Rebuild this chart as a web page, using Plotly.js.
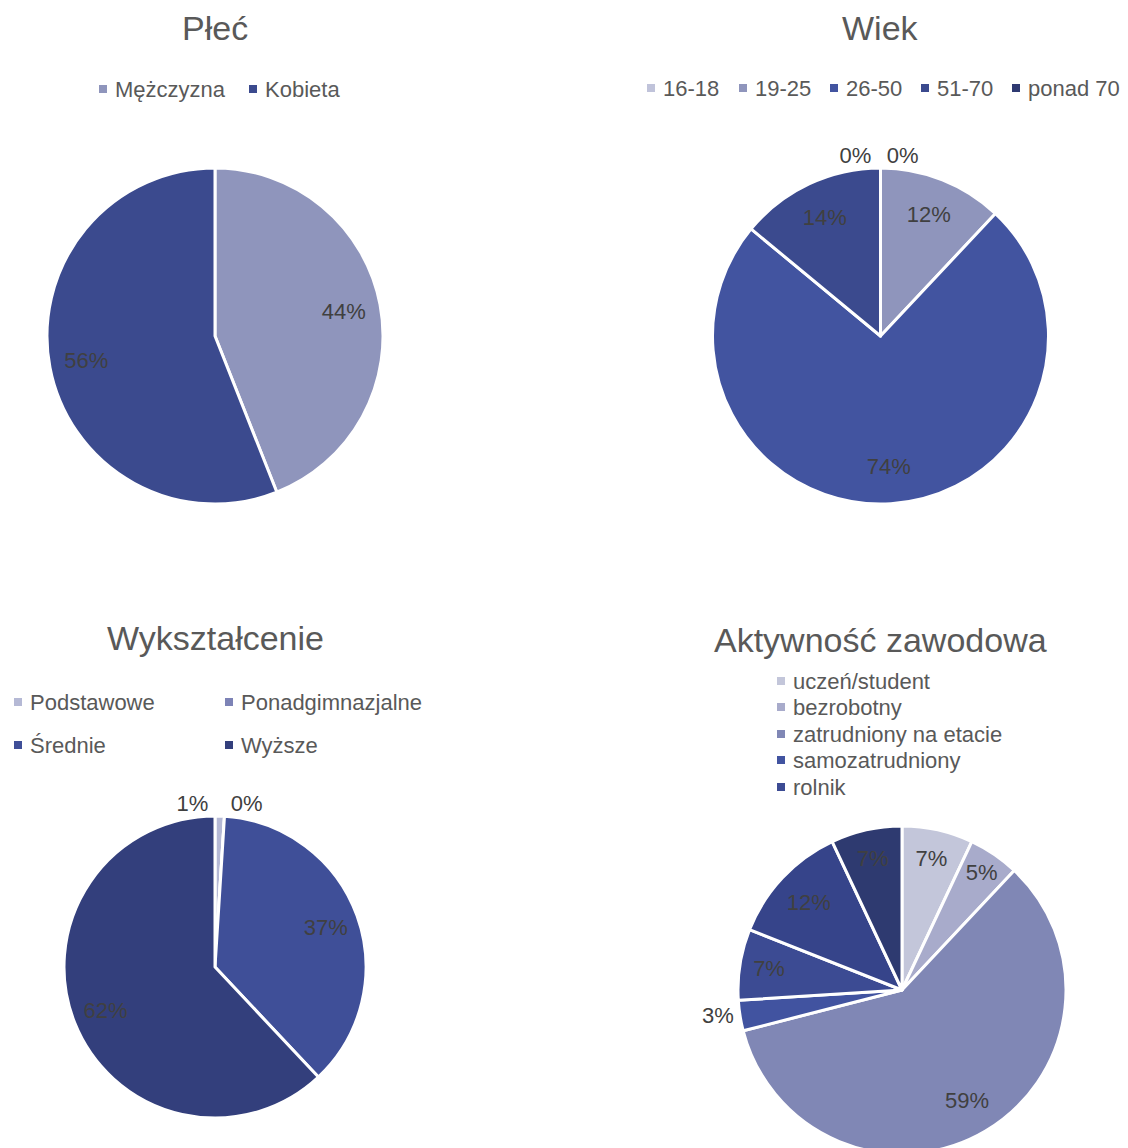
<!DOCTYPE html>
<html><head><meta charset="utf-8">
<script src="https://cdn.plot.ly/plotly-3.0.1.min.js"></script>
<style>html,body{margin:0;padding:0;background:#fff;overflow:hidden}</style>
</head><body><div id="chart" style="width:1128px;height:1160px"></div>
<script>
// ---- data ----
const plecTitle = 'Płeć';
const plecLabels = ['Mężczyzna', 'Kobieta'];
const plecValues = [44, 56];

const wiekTitle = 'Wiek';
const wiekLabels = ['16-18', '19-25', '26-50', '51-70', 'ponad 70'];
const wiekValues = [0, 12, 74, 14, 0];

const wyksztTitle = 'Wykształcenie';
const wyksztLabels = ['Podstawowe', 'Ponadgimnazjalne', 'Średnie', 'Wyższe'];
const wyksztValues = [1, 0, 37, 62];

const aktywTitle = 'Aktywność zawodowa';
const aktywLabels = ['uczeń/student', 'bezrobotny', 'zatrudniony na etacie', 'samozatrudniony', 'rolnik', 'emeryt/rencista', 'inne'];
const aktywValues = [7, 5, 59, 3, 7, 12, 7];
const aktywLegendShown = 5; // the reference legend lists only the first five

// ---- styles ----
const plecColors = ['#8f95bc', '#3b4a8e'];
const wiekColors = ['#c0c3da', '#8f95bc', '#4254a0', '#3b4a8e', '#2f3a72'];
const wyksztColors = ['#b5b9d5', '#7d83b6', '#3f4f98', '#333f7c'];
const aktywColors = ['#c3c6da', '#a8abcb', '#8087b5', '#4153a0', '#3c4b93', '#36448a', '#2e3a70'];

const plecTextPos = ['inside', 'inside'];
const wiekTextPos = ['outside', 'inside', 'inside', 'inside', 'outside'];
const wyksztTextPos = ['outside', 'outside', 'inside', 'inside'];
const aktywTextPos = ['inside', 'inside', 'inside', 'outside', 'inside', 'inside', 'inside'];

// which label layer each data label is drawn in (separate layers keep labels from being pushed apart)
const plecLabelLayer = [0, 0];
const wiekLabelLayer = [0, 0, 0, 0, 1];
const wyksztLabelLayer = [1, 0, 0, 0];
const aktywLabelLayer = [0, 0, 0, 0, 0, 0, 0];
// small rotation nudge per label layer (degrees) so a tiny slice at 12 o'clock gets its label on the left side
const wiekLayerNudge = [0, -1];
const wyksztLayerNudge = [0, -2];

const W = 1128, H = 1160;
const FONT = 'Liberation Sans, Arial, sans-serif';
const px = v => v / W;
const py = v => 1 - v / H;

const panels = [
  {title: plecTitle, labels: plecLabels, values: plecValues, colors: plecColors, textpos: plecTextPos, layer: plecLabelLayer,
   nudge: [0], box: [47, 383, 168, 504], titlePos: [215, 28],
   legX: [103, 253], legY: [89, 89], legN: plecLabels.length},
  {title: wiekTitle, labels: wiekLabels, values: wiekValues, colors: wiekColors, textpos: wiekTextPos, layer: wiekLabelLayer,
   nudge: wiekLayerNudge, box: [712, 1049, 168, 504], titlePos: [880, 28],
   legX: [651, 743, 834, 925, 1016], legY: [88, 88, 88, 88, 88], legN: wiekLabels.length},
  {title: wyksztTitle, labels: wyksztLabels, values: wyksztValues, colors: wyksztColors, textpos: wyksztTextPos, layer: wyksztLabelLayer,
   nudge: wyksztLayerNudge, box: [64, 366, 816, 1118], titlePos: [215, 638],
   legX: [18, 229, 18, 229], legY: [702, 702, 745, 745], legN: wyksztLabels.length},
  {title: aktywTitle, labels: aktywLabels, values: aktywValues, colors: aktywColors, textpos: aktywTextPos, layer: aktywLabelLayer,
   nudge: [0], box: [738, 1066, 826, 1154], titlePos: [880, 640],
   legX: [781, 781, 781, 781, 781], legY: [681, 707, 734, 760, 787], legN: aktywLegendShown}
];

const traces = [];
const annotations = [];
const shapes = [];

panels.forEach(p => {
  const domain = {x: [px(p.box[0]), px(p.box[1])], y: [py(p.box[3]), py(p.box[2])]};
  // slices
  traces.push({
    type: 'pie', labels: p.labels, values: p.values, sort: false, direction: 'clockwise', rotation: 0,
    domain: domain, marker: {colors: p.colors, line: {color: '#ffffff', width: 3}},
    textinfo: 'none', showlegend: false, hoverinfo: 'label+percent'
  });
  // data labels: transparent ring on the same pie so labels sit near the outer edge
  const nLayers = Math.max(...p.layer) + 1;
  for (let g = 0; g < nLayers; g++) {
    traces.push({
      type: 'pie', labels: p.labels, values: p.values, sort: false, direction: 'clockwise',
      rotation: p.nudge[g] || 0,
      domain: domain, hole: 0.56,
      marker: {colors: p.labels.map(() => 'rgba(0,0,0,0)'), line: {width: 0}},
      texttemplate: '%{value}%',
      textposition: p.textpos.map((t, i) => p.layer[i] === g ? t : 'none'),
      insidetextorientation: 'horizontal',
      textfont: {family: FONT, size: 22, color: '#404040'},
      showlegend: false, hoverinfo: 'skip'
    });
  }
  annotations.push({
    xref: 'paper', yref: 'paper', x: px(p.titlePos[0]), y: py(p.titlePos[1]),
    xanchor: 'center', yanchor: 'middle', showarrow: false, text: p.title,
    font: {family: FONT, size: 34, color: '#595959'}
  });
  for (let i = 0; i < p.legN; i++) {
    const mx = p.legX[i], my = p.legY[i];
    shapes.push({type: 'rect', xref: 'paper', yref: 'paper',
      x0: px(mx - 4), x1: px(mx + 4), y0: py(my + 4), y1: py(my - 4),
      fillcolor: p.colors[i], line: {width: 0}});
    annotations.push({
      xref: 'paper', yref: 'paper', x: px(mx + 10), y: py(my),
      xanchor: 'left', yanchor: 'middle', showarrow: false, text: p.labels[i],
      font: {family: FONT, size: 22, color: '#595959'}
    });
  }
});

const layout = {
  width: W, height: H, margin: {l: 0, r: 0, t: 0, b: 0},
  paper_bgcolor: '#ffffff', plot_bgcolor: '#ffffff',
  showlegend: false, font: {family: FONT, color: '#595959'},
  uniformtext: {mode: 'show', minsize: 22},
  annotations: annotations, shapes: shapes
};

Plotly.newPlot('chart', traces, layout, {displayModeBar: false, staticPlot: true}).then(gd => {
  // the original has no leader lines next to the small outside labels
  gd.querySelectorAll('path.textline').forEach(n => n.remove());
});
</script>
</body></html>
